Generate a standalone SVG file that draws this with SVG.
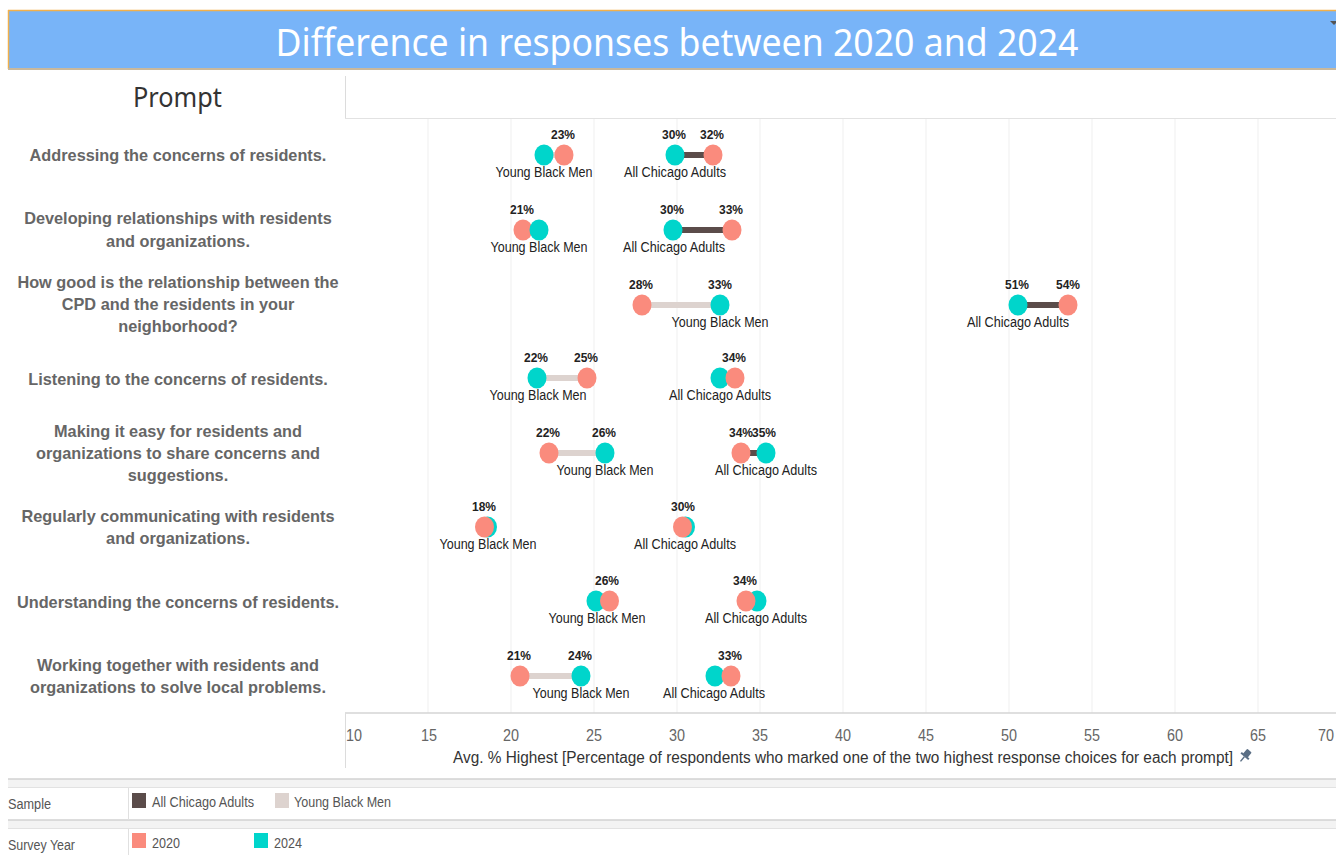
<svg xmlns="http://www.w3.org/2000/svg" width="1336" height="855" viewBox="0 0 1336 855">
<style>
.prompt{font-family:"Liberation Sans",Arial,sans-serif;font-weight:bold;font-size:16.3px;fill:#666;text-anchor:middle}
.pct{font-family:"Liberation Sans",Arial,sans-serif;font-weight:bold;font-size:12px;fill:#222;text-anchor:middle}
.grp{font-family:"Liberation Sans",Arial,sans-serif;font-size:13.8px;fill:#222;text-anchor:middle}
.tick{font-family:"Liberation Sans",Arial,sans-serif;font-size:17px;fill:#666;text-anchor:middle}
.leg{font-family:"Liberation Sans",Arial,sans-serif;font-size:14px;fill:#555}
.grid{stroke:#efefef;stroke-width:1}
.y20{fill:#fa8b7d}
.y24{fill:#00d5cb}
.barA{stroke:#5b4c4a;stroke-width:6}
.barY{stroke:#ddd3cf;stroke-width:6}
</style>
<rect x="0" y="0" width="1336" height="855" fill="#ffffff"/>

<g id="title">
<rect x="8" y="10" width="1330" height="59" fill="#78b4f8"/>
<line x1="8" y1="10.5" x2="1336" y2="10.5" stroke="#f1b04c" stroke-width="1.5"/>
<line x1="8.5" y1="10" x2="8.5" y2="69" stroke="#f1b04c" stroke-width="1.5"/>
<line x1="8" y1="69" x2="1336" y2="69" stroke="#c9b89c" stroke-width="2"/>
<text x="677" y="56" font-family="'Noto Sans','Open Sans',sans-serif" font-size="39" fill="#ffffff" text-anchor="middle" textLength="803" lengthAdjust="spacingAndGlyphs">Difference in responses between 2020 and 2024</text>
<polygon points="1330,21 1338,21 1334,25" fill="#555"/>
</g>

<g id="header">
<text x="177.5" y="107" font-family="'Noto Sans','Open Sans',sans-serif" font-size="27" fill="#333" text-anchor="middle" textLength="89" lengthAdjust="spacingAndGlyphs">Prompt</text>
<line x1="345.5" y1="76" x2="345.5" y2="118" stroke="#dcdcdc"/>
<line x1="345" y1="118.5" x2="1336" y2="118.5" stroke="#e2e2e2"/>
</g>

<g id="gridlines">
<line class="grid" x1="428" y1="119" x2="428" y2="713"/>
<line class="grid" x1="511" y1="119" x2="511" y2="713"/>
<line class="grid" x1="594" y1="119" x2="594" y2="713"/>
<line class="grid" x1="677" y1="119" x2="677" y2="713"/>
<line class="grid" x1="760" y1="119" x2="760" y2="713"/>
<line class="grid" x1="843" y1="119" x2="843" y2="713"/>
<line class="grid" x1="926" y1="119" x2="926" y2="713"/>
<line class="grid" x1="1009" y1="119" x2="1009" y2="713"/>
<line class="grid" x1="1092" y1="119" x2="1092" y2="713"/>
<line class="grid" x1="1175" y1="119" x2="1175" y2="713"/>
<line class="grid" x1="1258" y1="119" x2="1258" y2="713"/>
</g>

<g id="prompts">
<text class="prompt" x="178" y="161">Addressing the concerns of residents.</text>
<text class="prompt" x="178" y="224">Developing relationships with residents</text>
<text class="prompt" x="178" y="247">and organizations.</text>
<text class="prompt" x="178" y="288">How good is the relationship between the</text>
<text class="prompt" x="178" y="310">CPD and the residents in your</text>
<text class="prompt" x="178" y="332">neighborhood?</text>
<text class="prompt" x="178" y="385">Listening to the concerns of residents.</text>
<text class="prompt" x="178" y="437">Making it easy for residents and</text>
<text class="prompt" x="178" y="459">organizations to share concerns and</text>
<text class="prompt" x="178" y="481">suggestions.</text>
<text class="prompt" x="178" y="522">Regularly communicating with residents</text>
<text class="prompt" x="178" y="544">and organizations.</text>
<text class="prompt" x="178" y="608">Understanding the concerns of residents.</text>
<text class="prompt" x="178" y="671">Working together with residents and</text>
<text class="prompt" x="178" y="693">organizations to solve local problems.</text>
</g>

<g id="connectors">
<line class="barY" x1="544" y1="155" x2="564" y2="155"/>
<line class="barA" x1="675" y1="155" x2="713" y2="155"/>
<line class="barY" x1="523" y1="230" x2="539" y2="230"/>
<line class="barA" x1="673" y1="230" x2="732" y2="230"/>
<line class="barY" x1="642" y1="305" x2="720" y2="305"/>
<line class="barA" x1="1018" y1="305" x2="1068" y2="305"/>
<line class="barY" x1="537" y1="378" x2="587" y2="378"/>
<line class="barA" x1="720" y1="378" x2="735" y2="378"/>
<line class="barY" x1="549" y1="453" x2="605" y2="453"/>
<line class="barA" x1="741" y1="453" x2="766" y2="453"/>
<line class="barY" x1="520" y1="676" x2="581" y2="676"/>
<line class="barA" x1="715" y1="676" x2="731" y2="676"/>
</g>

<g id="row1">
<ellipse class="y24" cx="544" cy="155" rx="9.5" ry="10.5"/>
<ellipse class="y20" cx="564" cy="155" rx="9.5" ry="10.5"/>
<text class="pct" x="563" y="139">23%</text>
<text class="grp" x="544" y="177" textLength="97" lengthAdjust="spacingAndGlyphs">Young Black Men</text>
<ellipse class="y24" cx="675" cy="155" rx="9.5" ry="10.5"/>
<ellipse class="y20" cx="713" cy="155" rx="9.5" ry="10.5"/>
<text class="pct" x="674" y="139">30%</text>
<text class="pct" x="712" y="139">32%</text>
<text class="grp" x="675" y="177" textLength="102" lengthAdjust="spacingAndGlyphs">All Chicago Adults</text>
</g>

<g id="row2">
<ellipse class="y20" cx="523" cy="230" rx="9.5" ry="10.5"/>
<ellipse class="y24" cx="539" cy="230" rx="9.5" ry="10.5"/>
<text class="pct" x="522" y="214">21%</text>
<text class="grp" x="539" y="252" textLength="97" lengthAdjust="spacingAndGlyphs">Young Black Men</text>
<ellipse class="y24" cx="673" cy="230" rx="9.5" ry="10.5"/>
<ellipse class="y20" cx="732" cy="230" rx="9.5" ry="10.5"/>
<text class="pct" x="672" y="214">30%</text>
<text class="pct" x="731" y="214">33%</text>
<text class="grp" x="674" y="252" textLength="102" lengthAdjust="spacingAndGlyphs">All Chicago Adults</text>
</g>

<g id="row3">
<ellipse class="y20" cx="642" cy="305" rx="9.5" ry="10.5"/>
<ellipse class="y24" cx="720" cy="305" rx="9.5" ry="10.5"/>
<text class="pct" x="641" y="289">28%</text>
<text class="pct" x="720" y="289">33%</text>
<text class="grp" x="720" y="327" textLength="97" lengthAdjust="spacingAndGlyphs">Young Black Men</text>
<ellipse class="y24" cx="1018" cy="305" rx="9.5" ry="10.5"/>
<ellipse class="y20" cx="1068" cy="305" rx="9.5" ry="10.5"/>
<text class="pct" x="1017" y="289">51%</text>
<text class="pct" x="1068" y="289">54%</text>
<text class="grp" x="1018" y="327" textLength="102" lengthAdjust="spacingAndGlyphs">All Chicago Adults</text>
</g>

<g id="row4">
<ellipse class="y24" cx="537" cy="378" rx="9.5" ry="10.5"/>
<ellipse class="y20" cx="587" cy="378" rx="9.5" ry="10.5"/>
<text class="pct" x="536" y="362">22%</text>
<text class="pct" x="586" y="362">25%</text>
<text class="grp" x="538" y="400" textLength="97" lengthAdjust="spacingAndGlyphs">Young Black Men</text>
<ellipse class="y24" cx="720" cy="378" rx="9.5" ry="10.5"/>
<ellipse class="y20" cx="735" cy="378" rx="9.5" ry="10.5"/>
<text class="pct" x="734" y="362">34%</text>
<text class="grp" x="720" y="400" textLength="102" lengthAdjust="spacingAndGlyphs">All Chicago Adults</text>
</g>

<g id="row5">
<ellipse class="y20" cx="549" cy="453" rx="9.5" ry="10.5"/>
<ellipse class="y24" cx="605" cy="453" rx="9.5" ry="10.5"/>
<text class="pct" x="548" y="437">22%</text>
<text class="pct" x="604" y="437">26%</text>
<text class="grp" x="605" y="475" textLength="97" lengthAdjust="spacingAndGlyphs">Young Black Men</text>
<ellipse class="y20" cx="741" cy="453" rx="9.5" ry="10.5"/>
<ellipse class="y24" cx="766" cy="453" rx="9.5" ry="10.5"/>
<text class="pct" x="741" y="437">34%</text>
<text class="pct" x="764" y="437">35%</text>
<text class="grp" x="766" y="475" textLength="102" lengthAdjust="spacingAndGlyphs">All Chicago Adults</text>
</g>

<g id="row6">
<ellipse class="y24" cx="487.5" cy="527" rx="9.5" ry="10.5"/>
<ellipse class="y20" cx="484.5" cy="527" rx="9.5" ry="10.5"/>
<text class="pct" x="484" y="511">18%</text>
<text class="grp" x="488" y="549" textLength="97" lengthAdjust="spacingAndGlyphs">Young Black Men</text>
<ellipse class="y24" cx="685.5" cy="527" rx="9.5" ry="10.5"/>
<ellipse class="y20" cx="682.5" cy="527" rx="9.5" ry="10.5"/>
<text class="pct" x="683" y="511">30%</text>
<text class="grp" x="685" y="549" textLength="102" lengthAdjust="spacingAndGlyphs">All Chicago Adults</text>
</g>

<g id="row7">
<ellipse class="y24" cx="596" cy="601" rx="9.5" ry="10.5"/>
<ellipse class="y20" cx="609.5" cy="601" rx="9.5" ry="10.5"/>
<text class="pct" x="607" y="585">26%</text>
<text class="grp" x="597" y="623" textLength="97" lengthAdjust="spacingAndGlyphs">Young Black Men</text>
<ellipse class="y24" cx="757" cy="601" rx="9.5" ry="10.5"/>
<ellipse class="y20" cx="746" cy="601" rx="9.5" ry="10.5"/>
<text class="pct" x="745" y="585">34%</text>
<text class="grp" x="756" y="623" textLength="102" lengthAdjust="spacingAndGlyphs">All Chicago Adults</text>
</g>

<g id="row8">
<ellipse class="y20" cx="520" cy="676" rx="9.5" ry="10.5"/>
<ellipse class="y24" cx="581" cy="676" rx="9.5" ry="10.5"/>
<text class="pct" x="519" y="660">21%</text>
<text class="pct" x="580" y="660">24%</text>
<text class="grp" x="581" y="698" textLength="97" lengthAdjust="spacingAndGlyphs">Young Black Men</text>
<ellipse class="y24" cx="715" cy="676" rx="9.5" ry="10.5"/>
<ellipse class="y20" cx="731" cy="676" rx="9.5" ry="10.5"/>
<text class="pct" x="730" y="660">33%</text>
<text class="grp" x="714" y="698" textLength="102" lengthAdjust="spacingAndGlyphs">All Chicago Adults</text>
</g>

<g id="axis">
<line x1="345" y1="713" x2="1336" y2="713" stroke="#d4d4d4" stroke-width="1.5"/>
<line x1="345.5" y1="713" x2="345.5" y2="768" stroke="#dcdcdc"/>
<text class="tick" x="354" y="741" textLength="16" lengthAdjust="spacingAndGlyphs">10</text>
<text class="tick" x="429" y="741" textLength="16" lengthAdjust="spacingAndGlyphs">15</text>
<text class="tick" x="511" y="741" textLength="16" lengthAdjust="spacingAndGlyphs">20</text>
<text class="tick" x="594" y="741" textLength="16" lengthAdjust="spacingAndGlyphs">25</text>
<text class="tick" x="677" y="741" textLength="16" lengthAdjust="spacingAndGlyphs">30</text>
<text class="tick" x="760" y="741" textLength="16" lengthAdjust="spacingAndGlyphs">35</text>
<text class="tick" x="843" y="741" textLength="16" lengthAdjust="spacingAndGlyphs">40</text>
<text class="tick" x="926" y="741" textLength="16" lengthAdjust="spacingAndGlyphs">45</text>
<text class="tick" x="1009" y="741" textLength="16" lengthAdjust="spacingAndGlyphs">50</text>
<text class="tick" x="1092" y="741" textLength="16" lengthAdjust="spacingAndGlyphs">55</text>
<text class="tick" x="1175" y="741" textLength="16" lengthAdjust="spacingAndGlyphs">60</text>
<text class="tick" x="1258" y="741" textLength="16" lengthAdjust="spacingAndGlyphs">65</text>
<text class="tick" x="1326" y="741" textLength="16" lengthAdjust="spacingAndGlyphs">70</text>
<text x="843" y="763" font-family="'Liberation Sans',Arial,sans-serif" font-size="16" fill="#333" text-anchor="middle" textLength="780" lengthAdjust="spacingAndGlyphs">Avg. % Highest [Percentage of respondents who marked one of the two highest response choices for each prompt]</text>
<g transform="translate(1245,756) rotate(40)" fill="#5b6f85">
<rect x="-3" y="-7" width="6" height="7" rx="1"/>
<rect x="-5" y="-1" width="10" height="2"/>
<rect x="-0.7" y="1" width="1.4" height="6"/>
</g>
</g>

<g id="legend">
<rect x="8" y="779" width="1328" height="8" fill="#f3f3f3"/>
<line x1="8" y1="779" x2="1336" y2="779" stroke="#d2d2d2" stroke-width="1.5"/>
<line x1="8" y1="787.5" x2="1336" y2="787.5" stroke="#e2e2e2"/>
<rect x="8" y="820" width="1328" height="8" fill="#f3f3f3"/>
<line x1="8" y1="820" x2="1336" y2="820" stroke="#d2d2d2" stroke-width="1.5"/>
<line x1="8" y1="828.5" x2="1336" y2="828.5" stroke="#e2e2e2"/>
<line x1="128.5" y1="788" x2="128.5" y2="820" stroke="#e0e0e0"/>
<line x1="128.5" y1="829" x2="128.5" y2="855" stroke="#e0e0e0"/>
<text class="leg" x="8" y="809" textLength="43" lengthAdjust="spacingAndGlyphs">Sample</text>
<rect x="132" y="793" width="14" height="15" fill="#5b4c4a"/>
<text class="leg" x="152" y="807" textLength="102" lengthAdjust="spacingAndGlyphs">All Chicago Adults</text>
<rect x="275" y="793" width="14" height="15" fill="#ddd3cf"/>
<text class="leg" x="294" y="807" textLength="97" lengthAdjust="spacingAndGlyphs">Young Black Men</text>
<text class="leg" x="8" y="850" textLength="67" lengthAdjust="spacingAndGlyphs">Survey Year</text>
<rect x="132" y="833" width="14" height="15" fill="#fa8b7d"/>
<text class="leg" x="152" y="848" textLength="28" lengthAdjust="spacingAndGlyphs">2020</text>
<rect x="254" y="833" width="14" height="15" fill="#00d5cb"/>
<text class="leg" x="274" y="848" textLength="28" lengthAdjust="spacingAndGlyphs">2024</text>
</g>
</svg>
